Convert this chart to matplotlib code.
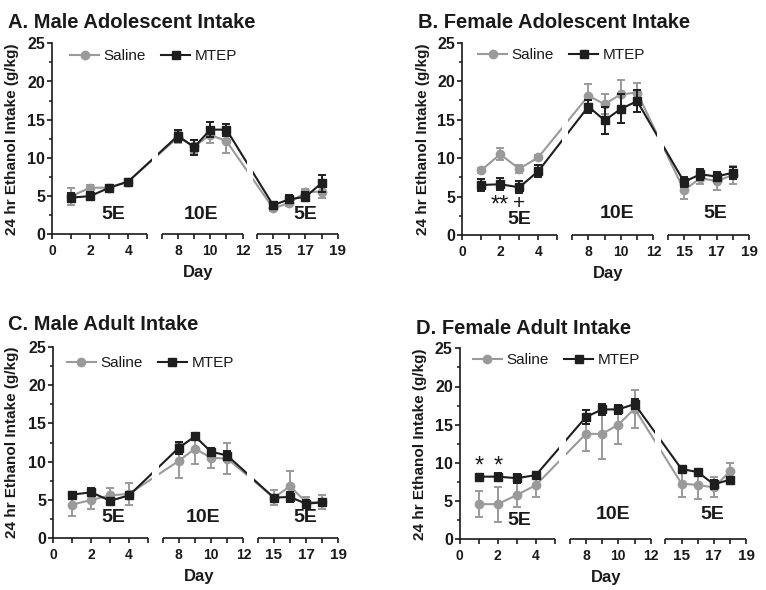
import numpy as np
import matplotlib
matplotlib.use('Agg')
import matplotlib.pyplot as plt
from matplotlib.ticker import FixedLocator, MultipleLocator

plt.rcParams['font.family'] = ['Liberation Sans', 'DejaVu Sans']


# ~~~~~~ Data ~~~~~~~~~~~~~~~~~~~~~~~~~~~~~~~~~~~~~~~~~~~~~~~~~~~~~~~~~~~~~~~~

days = [1, 2, 3, 4, 8, 9, 10, 11, 15, 16, 17, 18]

# A. Male adolescent
a_sal = [5.0, 6.1, 6.1, 6.9, 12.7, 11.5, 13.0, 12.2, 3.4, 4.1, 5.5, 5.6]
a_sal_err = [1.1, 0.3, 0.3, 0.3, 0.7, 0.9, 1.1, 1.5, 0.3, 0.4, 0.4, 0.8]
a_mtep = [4.8, 5.0, 6.1, 6.9, 12.9, 11.4, 13.7, 13.7, 3.8, 4.6, 4.9, 6.7]
a_mtep_err = [0.6, 0.5, 0.3, 0.3, 0.8, 1.0, 1.0, 0.8, 0.4, 0.5, 0.6, 1.1]

# B. Female adolescent
b_sal = [8.4, 10.5, 8.6, 10.1, 18.1, 17.0, 18.3, 18.5, 5.8, 7.4, 7.0, 7.8]
b_sal_err = [0.3, 0.8, 0.5, 0.3, 1.5, 1.3, 1.8, 1.3, 1.1, 0.8, 1.2, 1.2]
b_mtep = [6.5, 6.6, 6.2, 8.3, 16.7, 14.9, 16.4, 17.4, 6.9, 7.9, 7.6, 8.1]
b_mtep_err = [0.8, 0.8, 0.8, 0.8, 0.9, 1.8, 1.9, 1.4, 0.6, 0.7, 0.6, 0.8]

# C. Male adult
c_sal = [4.4, 5.0, 5.6, 5.8, 10.1, 11.7, 10.5, 10.4, 5.3, 6.8, 4.7, 4.7]
c_sal_err = [1.5, 1.2, 0.9, 1.4, 2.2, 2.0, 1.3, 2.0, 1.0, 2.0, 0.7, 0.9]
c_mtep = [5.7, 6.0, 4.9, 5.6, 11.8, 13.3, 11.3, 10.8, 5.3, 5.4, 4.5, 4.7]
c_mtep_err = [0.4, 0.5, 0.3, 0.5, 0.8, 0.5, 0.5, 0.6, 0.4, 0.7, 0.5, 0.4]

# D. Female adult
d_sal = [4.6, 4.6, 5.8, 7.1, 13.8, 13.8, 15.0, 17.1, 7.3, 7.1, 6.8, 8.9]
d_sal_err = [1.7, 2.3, 1.6, 1.5, 2.2, 3.3, 2.5, 2.5, 1.8, 1.8, 1.3, 1.1]
d_mtep = [8.2, 8.2, 8.0, 8.4, 16.0, 17.0, 17.0, 17.7, 9.2, 8.8, 7.2, 7.8]
d_mtep_err = [0.4, 0.5, 0.6, 0.3, 0.9, 0.7, 0.6, 0.7, 0.3, 0.3, 0.6, 0.3]

titles = ['A. Male Adolescent Intake', 'B. Female Adolescent Intake',
          'C. Male Adult Intake', 'D. Female Adult Intake']

phase_labels = ['5E', '10E', '5E']
tick_days = [0, 1, 2, 3, 4, 5, 7, 8, 9, 10, 11, 12, 14, 15, 16, 17, 18, 19]
tick_text = ['0', '', '2', '', '4', '', '', '8', '', '10', '', '12',
             '', '15', '', '17', '', '19']

# significance marks: (panel, day, y, text, size)
marks = [(1, 2, 3.1, '**', 17), (1, 3, 3.4, '+', 15),
         (3, 1, 8.7, '*', 17), (3, 2, 8.7, '*', 17)]


# ~~~~~~ Broken x axis as a piecewise scale ~~~~~~~~~~~~~~~~~~~~~~~~~~~~~~~~~~~

brk_x = [-100, 0, 5, 7, 12, 14, 19, 119]
brk_d = [-100, 0, 5, 5.77, 10.03, 10.79, 15.04, 100.04]


def fwd(x):
    return np.interp(x, brk_x, brk_d)


def inv(d):
    return np.interp(d, brk_d, brk_x)


segments = [(0, 5), (7, 12), (14, 19)]
line_gaps = [(5.6, 6.45), (12.55, 13.45)]

gray = '#9a9a9a'
dark = '#1e1e1e'
txt = '#1a1a1a'

W, H = 766, 590
fig = plt.figure(figsize=(W / 100, H / 100), dpi=100)

# axes boxes in pixels: left, right, top, bottom
boxes = [(52.3, 337.7, 43.3, 234.3), (462, 749, 42.7, 235),
         (53.3, 338.3, 346.7, 538.3), (459.7, 746.3, 348.3, 539.3)]
title_pos = [(8, 13), (418, 13), (8, 315), (416, 319)]
ylabel_x = [-0.115, -0.111, -0.119, -0.115]
legend_pos = [(0.062, 0.934), (0.056, 0.936), (0.047, 0.913), (0.046, 0.939)]
phase_pos = [[(3.2, 2.65), (9.45, 2.65), (17.0, 2.65)],
             [(3.0, 2.0), (9.75, 2.85), (16.95, 2.85)],
             [(3.15, 2.7), (9.5, 2.7), (16.95, 2.7)],
             [(3.15, 2.4), (9.7, 3.2), (16.9, 3.2)]]

panels = [(a_sal, a_sal_err, a_mtep, a_mtep_err),
          (b_sal, b_sal_err, b_mtep, b_mtep_err),
          (c_sal, c_sal_err, c_mtep, c_mtep_err),
          (d_sal, d_sal_err, d_mtep, d_mtep_err)]

for i, (sal, sal_err, mtep, mtep_err) in enumerate(panels):
    l, r, t, b = boxes[i]
    ax = fig.add_axes([l / W, 1 - b / H, (r - l) / W, (b - t) / H])
    ax.set_xscale('function', functions=(fwd, inv))

    e1 = ax.errorbar(days, sal, yerr=sal_err, color=gray, marker='o', ms=6,
                     lw=1.5, elinewidth=1.4, capsize=2.6, capthick=1.4,
                     zorder=2)
    e2 = ax.errorbar(days, mtep, yerr=mtep_err, color=dark, marker='s',
                     ms=5.2, lw=1.5, elinewidth=1.4, capsize=2.6,
                     capthick=1.4, zorder=2.2)

    # blank the connecting lines where the axis is broken
    for g0, g1 in line_gaps:
        ax.axvspan(g0, g1, color='white', lw=0, zorder=3)

    ax.set_xlim(0, 19)
    ax.set_ylim(0, 25)

    for s in ['top', 'right', 'bottom']:
        ax.spines[s].set_visible(False)
    ax.spines['left'].set_linewidth(1.2)
    ax.spines['left'].set_color(txt)
    for s0, s1 in segments:
        ax.plot([s0, s1], [0, 0], color=txt, lw=1.2,
                transform=ax.get_xaxis_transform(), clip_on=False,
                solid_capstyle='butt', zorder=4)

    ax.xaxis.set_major_locator(FixedLocator(tick_days))
    ax.set_xticklabels(tick_text)
    ax.yaxis.set_major_locator(MultipleLocator(5))
    ax.yaxis.set_minor_locator(MultipleLocator(2.5))
    ax.tick_params(axis='x', length=3.5, width=1.2, color=txt, pad=3.5,
                   labelsize=10, labelcolor=txt)
    ax.tick_params(axis='y', which='major', length=3.5, width=1.2,
                   color=txt, pad=1.5, labelsize=11.5, labelcolor=txt)
    ax.tick_params(axis='y', which='minor', length=2.2, width=1.1, color=txt)
    for lab in ax.get_xticklabels() + ax.get_yticklabels():
        lab.set_fontweight('bold')
    for lab in ax.get_xticklabels()[13:]:
        lab.set_fontsize(11)

    ax.set_xlabel('Day', fontsize=12, fontweight='bold', color=txt)
    ax.xaxis.set_label_coords(0.51, -0.16)
    ax.set_ylabel('24 hr Ethanol Intake (g/kg)', fontsize=11,
                  fontweight='bold', color=txt)
    ax.yaxis.set_label_coords(ylabel_x[i], 0.5)

    for (px, py), lab in zip(phase_pos[i], phase_labels):
        ax.text(px, py, lab, fontsize=14, fontweight='bold', color=txt,
                ha='center', va='center', zorder=5)

    for p, dx, dy, s, fs in marks:
        if p == i:
            ax.text(dx, dy, s, fontsize=fs, color=txt, ha='center',
                    va='baseline', zorder=5)

    leg = ax.legend([e1[0], e2[0]], ['Saline', 'MTEP'], loc='center left',
                    bbox_to_anchor=legend_pos[i], ncol=2, frameon=False,
                    fontsize=11, handlelength=1.9, handletextpad=0.3,
                    columnspacing=1.0, borderpad=0, borderaxespad=0)
    for tx in leg.get_texts():
        tx.set_color(txt)

    tx0, ty0 = title_pos[i]
    fig.text(tx0 / W, 1 - ty0 / H, titles[i], fontsize=14.5,
             fontweight='bold', color=txt, ha='left', va='top')

fig.savefig('out.png', dpi=100)
